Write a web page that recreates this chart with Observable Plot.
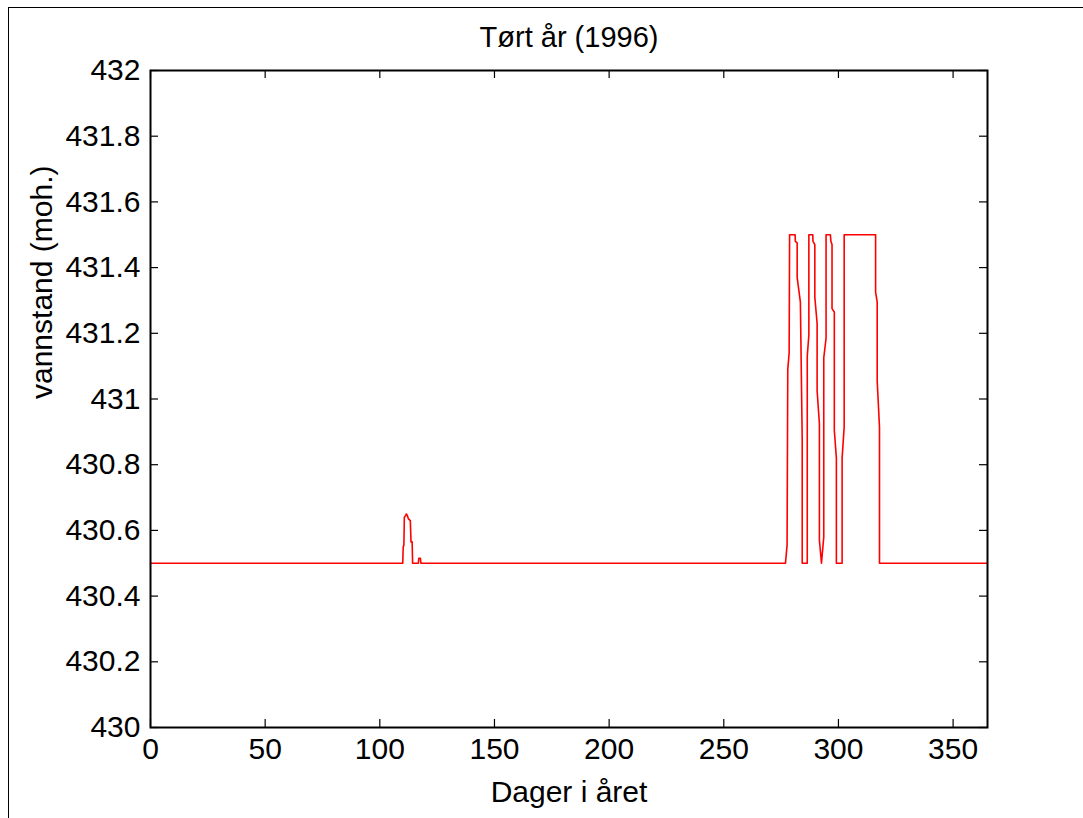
<!DOCTYPE html>
<html>
<head>
<meta charset="utf-8">
<script src="https://cdn.jsdelivr.net/npm/d3@7"></script>
<script src="https://cdn.jsdelivr.net/npm/@observablehq/plot@0.6"></script>
<style>
  html, body { margin: 0; padding: 0; background: white; }
  #wrap { position: relative; width: 1083px; height: 818px; overflow: hidden; }
  #border { position: absolute; left: 8px; top: 7px; width: 1200px; height: 900px;
            border-left: 1.5px solid black; border-top: 1.5px solid black; pointer-events: none; }
</style>
</head>
<body>
<div id="wrap"><div id="border"></div></div>
<script>
const titleText = "Tørt år (1996)";
const xLabel = "Dager i året";
const yLabel = "vannstand (moh.)";
const xTicks = [0, 50, 100, 150, 200, 250, 300, 350];
const yTicks = [430, 430.2, 430.4, 430.6, 430.8, 431, 431.2, 431.4, 431.6, 431.8, 432];

const days = [
  0, 110.0, 110.2, 110.5, 110.7, 111.2, 111.6, 112.0, 112.5, 113.3, 113.6, 114.1, 114.3,
  116.8, 117.0, 117.7, 117.9,
  276.9, 277.6, 277.9, 278.5, 278.7, 281.1, 281.2, 282.0, 282.0, 283.4, 284.2, 284.2,
  286.4, 286.4, 287.1, 287.1, 288.8, 288.9, 289.7, 289.7, 290.7, 290.7, 291.7, 291.7,
  292.6, 293.6, 293.6, 294.6, 294.6, 296.5, 296.7, 297.2, 297.2, 298.2, 298.2, 299.1,
  299.1, 301.6, 301.6, 302.5, 302.5, 316.2, 316.2, 316.9, 316.9, 317.9, 317.9, 365
];
const levels = [
  430.5, 430.5, 430.55, 430.555, 430.64, 430.645, 430.65, 430.645, 430.635, 430.63, 430.565, 430.565, 430.5,
  430.5, 430.515, 430.515, 430.5,
  430.5, 430.555, 431.09, 431.14, 431.5, 431.5, 431.48, 431.475, 431.37, 431.295, 430.875, 430.5,
  430.5, 431.13, 431.195, 431.5, 431.5, 431.48, 431.47, 431.31, 431.23, 431.025, 430.925, 430.57,
  430.5, 430.58, 431.125, 431.185, 431.5, 431.5, 431.48, 431.47, 431.275, 431.265, 430.905, 430.82,
  430.5, 430.5, 430.82, 430.915, 431.5, 431.5, 431.325, 431.295, 431.055, 430.915, 430.5, 430.5
];

const series = days.map((d, i) => ({day: d, level: levels[i]}));

const W = 1083, H = 818, mL = 150, mR = 96, mT = 70, mB = 91;
const frameW = W - mL - mR, frameH = H - mT - mB, tickLen = 8;
const font = "'Liberation Sans', Arial, Helvetica, sans-serif";

const chart = Plot.plot({
  width: W, height: H,
  marginLeft: mL, marginRight: mR, marginTop: mT, marginBottom: mB,
  style: {fontFamily: font, fontSize: "30px", background: "transparent", color: "black", overflow: "visible"},
  x: {domain: [0, 365]},
  y: {domain: [430, 432]},
  marks: [
    Plot.line(series, {x: "day", y: "level", stroke: "#ff0000", strokeWidth: 1.6}),
    Plot.ruleX(xTicks, {x: d => d, insetTop: frameH - tickLen, stroke: "black", strokeWidth: 1.2}),
    Plot.ruleX(xTicks, {x: d => d, insetBottom: frameH - tickLen, stroke: "black", strokeWidth: 1.2}),
    Plot.ruleY(yTicks, {y: d => d, insetRight: frameW - tickLen, stroke: "black", strokeWidth: 1.2}),
    Plot.ruleY(yTicks, {y: d => d, insetLeft: frameW - tickLen, stroke: "black", strokeWidth: 1.2}),
    Plot.frame({stroke: "black", strokeWidth: 2}),
    Plot.axisX(xTicks, {tickSize: 0, tickPadding: 10, label: null, fontSize: 30, tickFormat: d => String(d)}),
    Plot.axisY(yTicks, {tickSize: 0, tickPadding: 10, label: null, fontSize: 30, tickFormat: d => String(+d.toFixed(1))}),
    Plot.text([titleText], {text: d => d, frameAnchor: "top", lineAnchor: "middle", dy: -33, fontSize: 29, fill: "black"}),
    Plot.text([xLabel], {text: d => d, frameAnchor: "bottom", lineAnchor: "middle", dy: 65, fontSize: 30, fill: "black"}),
    Plot.text([yLabel], {text: d => d, frameAnchor: "left", lineAnchor: "middle", dx: -108, rotate: -90, fontSize: 30, fill: "black"})
  ]
});
chart.style.position = "absolute";
chart.style.left = "0px";
chart.style.top = "0px";
document.getElementById("wrap").appendChild(chart);
</script>
</body>
</html>
